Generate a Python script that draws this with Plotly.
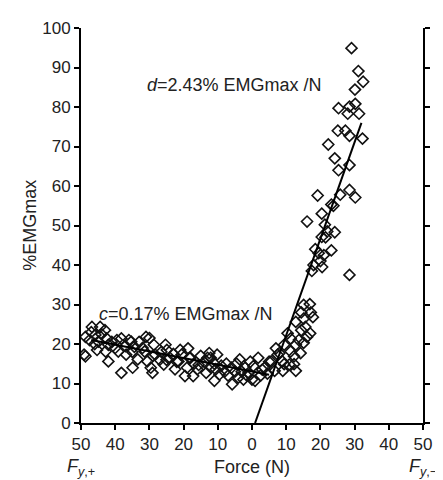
import plotly.graph_objects as go

# Force: negative = F_y,+ side (left), positive = F_y,- side (right)
force = [
    -46.8, -48.7, -49.1, -48.7, -45.8, -44.4, -44.9, -45.3, -42.5, -42.0, -42.0, -42.8,
    -38.2, -39.1, -38.2, -36.8, -35.3, -34.9, -34.4, -33.4, -31.0, -31.4, -30.6, -29.6,
    -29.1, -28.7, -28.3, -25.8, -25.3, -24.9, -24.0, -22.5, -21.5, -20.6, -19.6, -18.7,
    -18.3, -17.2, -16.0, -15.6, -12.5, -12.1, -13.4, -11.0, -10.6, -10.2, -9.5,
    -47.5, -47.0, -46.0, -44.0, -43.0, -41.0, -40.0, -39.5, -37.0, -36.0, -35.0, -33.0,
    -32.0, -30.0, -29.0, -27.0, -26.5, -25.0, -23.0, -22.0, -21.0, -19.0, -18.0, -17.0,
    -15.0, -14.0, -13.0, -12.0, -11.0, -9.0, -8.0, -7.5, -7.0, -6.0, -5.8, -5.0, -4.5,
    -4.0, -3.6, -3.0, -2.5, -2.0, -1.5, -1.0, -0.5, 0.0,
    0.4, 0.9, 1.8, 2.5, 3.0, 3.7, 4.5, 5.0, 5.6, 6.6, 7.0, 7.5, 8.0, 8.9, 9.0, 9.4, 9.4,
    10.4, 10.9, 11.3, 11.3, 12.3, 12.3, 12.8, 12.8, 12.8, 13.7, 14.2, 14.4, 14.4, 15.1,
    15.1, 15.1, 15.6, 16.1, 16.9, 17.0, 17.2, 17.8,
    16.1, 17.5, 18.0, 18.5, 19.5, 20.0, 20.5, 21.0, 21.5, 20.4, 20.4, 19.2, 21.3, 22.0,
    23.2, 23.2, 24.2, 24.2, 22.3, 25.3, 25.8, 25.1, 27.3, 28.5, 25.3, 28.0, 28.5, 30.2,
    31.3, 32.3, 30.1, 32.5, 31.1, 29.1, 28.5, 28.5, 30.2, 28.5, 23.8,
]
emg = [
    24.3, 21.8, 17.3, 16.9, 22.3, 24.3, 20.6, 18.5, 21.4, 19.8, 15.6, 18.1,
    21.4, 18.1, 12.7, 17.3, 20.6, 14.0, 19.3, 16.1, 21.8, 18.1, 15.6, 14.0,
    12.7, 19.8, 17.3, 14.8, 19.8, 18.5, 16.5, 13.6, 15.6, 17.3, 11.9, 18.9,
    16.5, 11.9, 13.6, 14.7, 17.7, 16.5, 12.7, 10.7, 13.6, 17.3, 12.3,
    21.0, 23.0, 20.0, 22.5, 23.5, 20.5, 19.0, 21.0, 19.5, 21.0, 18.0, 20.5,
    19.0, 21.5, 17.0, 16.0, 18.0, 16.0, 17.5, 15.5, 18.5, 14.0, 16.5, 15.0,
    17.0, 15.5, 16.5, 14.0, 15.0, 14.5, 13.0, 15.0, 12.0, 14.0, 9.8, 13.0, 15.0,
    11.5, 16.1, 13.0, 11.0, 14.0, 12.0, 12.7, 15.5, 11.0,
    14.4, 10.7, 16.5, 12.0, 13.5, 14.0, 12.5, 15.5, 15.6, 13.2, 18.9, 17.3, 17.7, 15.6, 13.2, 14.9, 19.8,
    22.7, 14.8, 18.1, 21.4, 14.9, 16.9, 13.2, 19.8, 25.6, 21.0, 17.7, 23.5, 28.0, 29.9,
    26.4, 20.3, 24.3, 21.8, 30.1, 22.7, 28.0, 26.8,
    51.0, 38.5, 40.0, 44.0, 43.0, 41.0, 39.5, 42.5, 47.0, 47.1, 53.0, 57.6, 50.2, 48.5,
    55.3, 43.7, 48.3, 67.0, 70.5, 64.0, 57.8, 74.0, 74.0, 72.7, 79.7, 78.3, 80.1, 80.8,
    78.3, 72.0, 84.4, 86.4, 89.1, 94.9, 65.3, 59.0, 57.1, 37.5, 55.0,
]

# Regression lines (endpoints)
fit_c_x = [-47.0, 5.0]
fit_c_y = [21.0, 12.2]
fit_d_x = [0.9, 32.0]
fit_d_y = [0.0, 76.0]

tick_vals = [-50, -40, -30, -20, -10, 0, 10, 20, 30, 40, 50]
tick_text = ["50", "40", "30", "20", "10", "0", "10", "20", "30", "40", "50"]

FONT = "Liberation Sans, Arial, sans-serif"
TXT = "#222222"

fig = go.Figure()
fig.add_trace(go.Scatter(
    x=force, y=emg, mode="markers",
    marker=dict(symbol="diamond-open", size=8.5, color="#111111", line=dict(width=1.6, color="#111111")),
    showlegend=False, hoverinfo="skip",
))
fig.add_trace(go.Scatter(x=fit_c_x, y=fit_c_y, mode="lines",
                         line=dict(color="black", width=2), showlegend=False))
fig.add_trace(go.Scatter(x=fit_d_x, y=fit_d_y, mode="lines",
                         line=dict(color="black", width=2), showlegend=False))

fig.update_layout(
    width=435, height=472,
    margin=dict(l=73, r=11, t=12, b=57),
    plot_bgcolor="white", paper_bgcolor="white",
    font=dict(family=FONT, size=17, color=TXT),
    xaxis=dict(range=[-50, 50], tickvals=tick_vals, ticktext=tick_text,
               ticks="outside", ticklen=5, tickwidth=2, tickcolor="black",
               showline=True, linewidth=2, linecolor="black",
               showgrid=False, zeroline=False, tickfont=dict(size=17, color=TXT)),
    yaxis=dict(range=[0, 100], dtick=10, ticks="outside", ticklen=5, tickwidth=2,
               tickcolor="black", showline=True, linewidth=2, linecolor="black",
               mirror="ticks", showgrid=False, zeroline=False,
               tickfont=dict(size=17, color=TXT)),
    annotations=[
        dict(text="<i>d</i>=2.43% EMGmax /N", x=-5.0, y=85.6, xref="x", yref="y",
             showarrow=False, xanchor="center", yanchor="middle", font=dict(size=18, color=TXT)),
        dict(text="<i>c</i>=0.17% EMGmax /N", x=-19.4, y=27.5, xref="x", yref="y",
             showarrow=False, xanchor="center", yanchor="middle", font=dict(size=18, color=TXT)),
        dict(text="%EMGmax", x=-0.151, y=0.5, xref="paper", yref="paper", textangle=-90,
             showarrow=False, xanchor="center", yanchor="middle", font=dict(size=18, color=TXT)),
        dict(text="Force (N)", x=0.5, y=-0.112, xref="paper", yref="paper",
             showarrow=False, xanchor="center", yanchor="middle", font=dict(size=18, color=TXT)),
        dict(text="<i>F</i><sub><i>y</i>,+</sub>", x=0.0, y=-0.112, xref="paper", yref="paper",
             showarrow=False, xanchor="center", yanchor="middle", font=dict(size=18, color=TXT)),
        dict(text="<i>F</i><sub><i>y</i>,−</sub>", x=1.0, y=-0.112, xref="paper", yref="paper",
             showarrow=False, xanchor="center", yanchor="middle", font=dict(size=18, color=TXT)),
    ],
)

fig.write_html("out.html")
